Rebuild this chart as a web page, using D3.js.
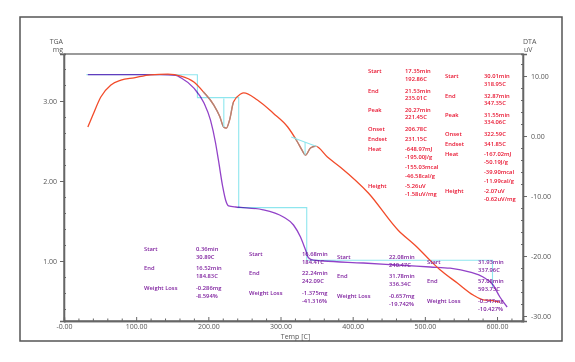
<!DOCTYPE html>
<html>
<head>
<meta charset="utf-8">
<script src="https://cdn.jsdelivr.net/npm/d3@7"></script>
<style>
  body { margin: 0; background: #fff; }
  svg { display: block; font-family: "Open Sans", sans-serif; }
</style>
</head>
<body>
<svg id="chart" width="575" height="362"></svg>
<script>
// TGA curve (temperature C, mass mg)
const tgaTemp = [33, 80, 106, 134, 155, 162, 180, 194, 203, 210, 214, 220, 224, 228, 238, 245, 276, 304, 318, 327.7, 334.6, 338.7, 345.6, 359.5, 414.8, 461.8, 507.4, 535, 562.7, 580.7, 594.5, 604, 614];
const tgaMass = [3.33, 3.33, 3.33, 3.33, 3.32, 3.29, 3.16, 2.975, 2.76, 2.475, 2.26, 1.925, 1.76, 1.69, 1.675, 1.67, 1.64, 1.55, 1.45, 1.30, 1.14, 1.04, 1.01, 1.0, 0.975, 0.95, 0.925, 0.91, 0.86, 0.80, 0.70, 0.55, 0.425];

// DTA curve (temperature C, signal uV)
const dtaTemp = [33, 40, 51, 65, 79, 97, 120, 144, 162, 180, 193.6, 207.4, 216, 221.2, 225, 229.5, 235, 244.7, 249, 268, 290, 310, 323.5, 330, 334.6, 341.5, 348.4, 365, 383, 421.7, 463, 489, 503, 521, 545, 567, 581, 592, 604];
const dtaUv = [1.5, 3.5, 6.5, 8.5, 9.3, 9.7, 10.2, 10.3, 10.0, 9.0, 7.3, 5.2, 3.2, 1.5, 1.3, 2.7, 5.7, 7.0, 7.2, 6.0, 3.8, 1.5, -1.0, -2.4, -3.2, -2.0, -1.7, -3.5, -5.2, -9.5, -15.7, -18.5, -20.2, -22.3, -24.5, -26.5, -27.3, -27.4, -27.7];

// axes
const xTicks = [0, 100, 200, 300, 400, 500, 600];
const xTickLabels = ["-0.00", "100.00", "200.00", "300.00", "400.00", "500.00", "600.00"];
const tgaTicks = [1, 2, 3];
const tgaTickLabels = ["1.00", "2.00", "3.00"];
const dtaTicks = [10, 0, -10, -20, -30];
const dtaTickLabels = ["10.00", "0.00", "-10.00", "-20.00", "-30.00"];

// TGA steps
const initialMass = 3.328;
const stepStart = [30.89, 184.41, 240.47, 337.96];
const stepEnd = [184.83, 242.09, 336.34, 593.73];
const stepLoss = [0.286, 1.375, 0.657, 0.347];

// DTA peaks
const peakStart = [192.86, 318.95];
const peakEnd = [235.01, 347.35];
const peakTop = [221.45, 334.06];

// annotation text
const dtaLabels = ["Start", "End", "Peak", "Onset", "Endset", "Heat", "Height"];
const dtaValues1 = ["17.35min", "192.86C", "21.53min", "235.01C", "20.27min", "221.45C", "206.78C", "231.15C", "-648.97mJ", "-195.00J/g", "-155.03mcal", "-46.58cal/g", "-5.26uV", "-1.58uV/mg"];
const dtaValues2 = ["30.01min", "318.95C", "32.87min", "347.35C", "31.55min", "334.06C", "322.59C", "341.85C", "-167.02mJ", "-50.19J/g", "-39.90mcal", "-11.99cal/g", "-2.07uV", "-0.62uV/mg"];
const tgaLabels = ["Start", "End", "Weight Loss"];
const tgaValues = [
  ["0.36min", "30.89C", "16.52min", "184.83C", "-0.286mg", "-8.594%"],
  ["16.68min", "184.41C", "22.24min", "242.09C", "-1.375mg", "-41.316%"],
  ["22.08min", "240.47C", "31.78min", "336.34C", "-0.657mg", "-19.742%"],
  ["31.93min", "337.96C", "57.08min", "593.73C", "-0.347mg", "-10.427%"]
];

const svg = d3.select("#chart");
const plot = { left: 64, right: 523, top: 54, bottom: 321 };

const x = d3.scaleLinear().domain([0, 636]).range([plot.left, plot.right]);
const yT = d3.scaleLinear().domain([0.25, 3.5875]).range([plot.bottom, plot.top]);
const yD = d3.scaleLinear().domain([-30.83, 13.67]).range([plot.bottom, plot.top]);

const axisColor = "#666";
const cyan = "#8ee6ee";
const tgaColor = "#9242c8";
const dtaColor = "#f24b2a";
const redText = "#e8112d";
const purpleText = "#7e1f9e";

// outer frame
svg.append("rect")
  .attr("x", 20).attr("y", 17).attr("width", 542).attr("height", 324)
  .attr("fill", "none").attr("stroke", "#555").attr("stroke-width", 1.5);

// plot box
svg.append("rect")
  .attr("x", plot.left).attr("y", plot.top)
  .attr("width", plot.right - plot.left).attr("height", plot.bottom - plot.top)
  .attr("fill", "none").attr("stroke", axisColor).attr("stroke-width", 1.3);

// x axis
const xAxis = svg.append("g").attr("transform", `translate(0,${plot.bottom})`)
  .call(d3.axisBottom(x).tickValues(xTicks).tickSize(-4).tickPadding(3)
    .tickFormat((d, i) => xTickLabels[i]));
const xMinor = svg.append("g").attr("transform", `translate(0,${plot.bottom})`)
  .call(d3.axisBottom(x).tickValues(d3.range(0, 636, 20).filter(d => d % 100 !== 0))
    .tickSize(-2.5).tickFormat(""));

// left axis
const yAxisL = svg.append("g").attr("transform", `translate(${plot.left},0)`)
  .call(d3.axisLeft(yT).tickValues(tgaTicks).tickSize(4).tickPadding(3)
    .tickFormat((d, i) => tgaTickLabels[i]));
const yMinorL = svg.append("g").attr("transform", `translate(${plot.left},0)`)
  .call(d3.axisLeft(yT).tickValues(d3.range(0.4, 3.55, 0.2).filter(d => Math.abs(d - Math.round(d)) > 0.01))
    .tickSize(-2).tickFormat(""));

// right axis
const yAxisR = svg.append("g").attr("transform", `translate(${plot.right},0)`)
  .call(d3.axisRight(yD).tickValues(dtaTicks).tickSize(4).tickPadding(4)
    .tickFormat((d, i) => dtaTickLabels[i]));
const yMinorR = svg.append("g").attr("transform", `translate(${plot.right},0)`)
  .call(d3.axisRight(yD).tickValues(d3.range(-30, 13, 2).filter(d => d % 10 !== 0))
    .tickSize(-2).tickFormat(""));

[xAxis, xMinor, yAxisL, yMinorL, yAxisR, yMinorR].forEach(g => {
  g.select(".domain").attr("stroke", axisColor).attr("stroke-width", 1.3);
  g.selectAll(".tick line").attr("stroke", axisColor);
  g.selectAll("text").attr("fill", "#555").style("font-size", "7px")
    .style("font-family", "'Open Sans', sans-serif");
});

// axis titles
svg.append("text").attr("x", 63).attr("y", 44).attr("text-anchor", "end")
  .attr("fill", "#555").style("font-size", "7px").text("TGA");
svg.append("text").attr("x", 63).attr("y", 52).attr("text-anchor", "end")
  .attr("fill", "#555").style("font-size", "7px").text("mg");
svg.append("text").attr("x", 523).attr("y", 44)
  .attr("fill", "#555").style("font-size", "7px").text("DTA");
svg.append("text").attr("x", 524).attr("y", 52)
  .attr("fill", "#555").style("font-size", "7px").text("uV");
svg.append("text").attr("x", (plot.left + plot.right) / 2 + 2).attr("y", 338.5)
  .attr("text-anchor", "middle").attr("fill", "#555").style("font-size", "7px")
  .text("Temp  [C]");

// curves
const tgaData = tgaTemp.map((t, i) => ({ t, v: tgaMass[i] }));
const dtaData = dtaTemp.map((t, i) => ({ t, v: dtaUv[i] }));
const tgaLine = d3.line().x(d => x(d.t)).y(d => yT(d.v)).curve(d3.curveMonotoneX);
const dtaLine = d3.line().x(d => x(d.t)).y(d => yD(d.v)).curve(d3.curveMonotoneX);

svg.append("path").datum(tgaData)
  .attr("fill", "none").attr("stroke", tgaColor).attr("stroke-width", 1.3)
  .attr("d", tgaLine);

// TGA step markers
const stepGroup = svg.append("g").style("mix-blend-mode", "multiply");
let mass = initialMass;
stepStart.forEach((s, i) => {
  const m2 = mass - stepLoss[i];
  stepGroup.append("path")
    .attr("d", `M${x(s)},${yT(mass)}H${x(stepEnd[i])}V${yT(m2)}`)
    .attr("fill", "none").attr("stroke", cyan).attr("stroke-width", 1.1);
  mass = m2;
});

svg.append("path").datum(dtaData)
  .attr("fill", "none").attr("stroke", dtaColor).attr("stroke-width", 1.3)
  .attr("d", dtaLine);

// DTA peak overlays and baselines
const dtaAt = t => {
  const i = d3.bisector(d => d.t).left(dtaData, t);
  if (i <= 0) return dtaData[0].v;
  const a = dtaData[i - 1], b = dtaData[i];
  return a.v + (b.v - a.v) * (t - a.t) / (b.t - a.t);
};
peakStart.forEach((s, i) => {
  const part = dtaData.filter(d => d.t > s && d.t < peakEnd[i]);
  const seg = [{ t: s, v: dtaAt(s) }, ...part, { t: peakEnd[i], v: dtaAt(peakEnd[i]) }];
  svg.append("path").datum(seg)
    .attr("fill", "none").attr("stroke", "#9a9a90").attr("stroke-width", 1.3)
    .attr("opacity", 0.75).attr("d", dtaLine);
  const b0 = dtaAt(s), b1 = dtaAt(peakEnd[i]);
  const bp = b0 + (b1 - b0) * (peakTop[i] - s) / (peakEnd[i] - s);
  if (i === 1) {
    svg.append("line")
      .attr("x1", x(s) - 3).attr("y1", yD(b0))
      .attr("x2", x(peakEnd[i]) + 2).attr("y2", yD(b1))
      .attr("stroke", cyan).attr("stroke-width", 1.1);
  }
  svg.append("line")
    .attr("x1", x(peakTop[i])).attr("y1", yD(bp))
    .attr("x2", x(peakTop[i])).attr("y2", yD(dtaAt(peakTop[i])))
    .attr("stroke", cyan).attr("stroke-width", 1.1);
});

// annotation text
const dtaLabelOffsets = [0, 20, 39, 58, 68, 78, 115];
const dtaValueOffsets = [0, 8, 20, 27, 39, 46, 58, 68, 78, 86, 96, 105, 115, 123];
const tgaLabelOffsets = [0, 19, 39];
const tgaValueOffsets = [0, 8, 19, 27, 39, 47];

function block(labels, values, lx, vx, top, lo, vo, color) {
  const g = svg.append("g").attr("fill", color)
    .style("font-size", "5.8px").style("font-weight", 600);
  labels.forEach((t, i) => g.append("text").attr("x", lx).attr("y", top + lo[i] + 2).text(t));
  values.forEach((t, i) => g.append("text").attr("x", vx).attr("y", top + vo[i] + 2).text(t));
}

block(dtaLabels, dtaValues1, 368, 405, 71, dtaLabelOffsets, dtaValueOffsets, redText);
block(dtaLabels, dtaValues2, 445, 484, 76, dtaLabelOffsets, dtaValueOffsets, redText);

const tgaBlockPos = [[144, 196, 249], [249, 302, 254], [337, 389, 257], [427, 478, 262]];
tgaValues.forEach((vals, i) => {
  const [lx, vx, top] = tgaBlockPos[i];
  block(tgaLabels, vals, lx, vx, top, tgaLabelOffsets, tgaValueOffsets, purpleText);
});
</script>
</body>
</html>
